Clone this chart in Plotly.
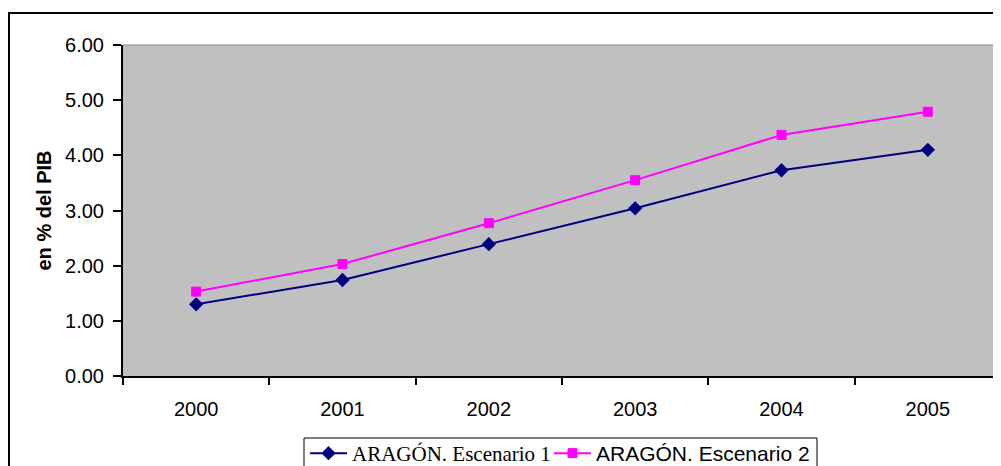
import plotly.graph_objects as go

years = ["2000", "2001", "2002", "2003", "2004", "2005"]
escenario1 = [1.30, 1.74, 2.39, 3.04, 3.73, 4.10]
escenario2 = [1.53, 2.03, 2.77, 3.55, 4.37, 4.79]
name1 = "ARAGÓN. Escenario 1"
name2 = "ARAGÓN. Escenario 2"
y_title = "en % del PIB"

# page body has an 8px margin; work in reference pixel coords
OFF = 8
W, H = 1001 - OFF, 466 - OFF
L, T = 123 - OFF, 45 - OFF
R = 0
B = H - (376 - OFF)
pw = W - L - R
ph = H - T - B

def px_x(x):
    return (x - OFF - L) / pw

def px_y(y):
    return (H - B - (y - OFF)) / ph

fig = go.Figure()
fig.add_trace(go.Scatter(
    x=years, y=escenario1, mode="lines+markers",
    name='<span style="font-family:\'Liberation Serif\', \'Times New Roman\', serif">' + name1 + '</span>',
    line=dict(color="#000080", width=2),
    marker=dict(symbol="diamond", size=11, color="#000080", line=dict(width=0)),
    legendwidth=192,
))
fig.add_trace(go.Scatter(
    x=years, y=escenario2, mode="lines+markers",
    name=name2,
    line=dict(color="#FF00FF", width=2),
    marker=dict(symbol="square", size=9, color="#FF00FF", line=dict(width=1, color="#FF00FF")),
))

shapes = [
    # plot area grey border (top edge)
    dict(type="line", xref="paper", yref="paper", x0=0, x1=1.0, y0=1, y1=1,
         line=dict(color="#808080", width=1), layer="below"),
    # outer chart border
    dict(type="rect", xref="paper", yref="paper", x0=px_x(9), x1=px_x(1100), y0=px_y(560), y1=px_y(13),
         line=dict(color="black", width=2), fillcolor="rgba(0,0,0,0)"),
    # legend box
    dict(type="rect", xref="paper", yref="paper", x0=px_x(304), x1=px_x(817), y0=px_y(560), y1=px_y(438),
         line=dict(color="black", width=1), fillcolor="white"),
]

fig.update_layout(
    width=W, height=H,
    margin=dict(l=L, r=R, t=T, b=B, autoexpand=False),
    paper_bgcolor="white",
    plot_bgcolor="#C0C0C0",
    font=dict(family="Liberation Sans, Arial, sans-serif", size=20, color="black"),
    showlegend=True,
    legend=dict(
        orientation="h", x=px_x(305), xanchor="left", y=px_y(433), yanchor="top",
        bgcolor="rgba(0,0,0,0)", borderwidth=0,
        font=dict(size=21, family="Liberation Sans, Arial, sans-serif"),
        itemwidth=37, tracegroupgap=0,
    ),
    shapes=shapes,
)
fig.update_xaxes(
    type="category", range=[-0.5, 5.5], tickson="boundaries", ticks="outside", ticklen=7, tickwidth=1.5,
    tickcolor="black", showline=True, linecolor="black", linewidth=2,
    showgrid=False, zeroline=False, ticklabelstandoff=14,
    tickfont=dict(size=20),
)
fig.update_yaxes(
    range=[0, 6], dtick=1, tickformat=".2f", ticks="outside", ticklen=8, tickwidth=1.5,
    tickcolor="black", showline=True, linecolor="black", linewidth=2,
    showgrid=False, zeroline=False, ticklabelstandoff=5,
    tickfont=dict(size=20),
    title=dict(text="<b>" + y_title + "</b>", font=dict(size=20), standoff=8),
)

fig.write_html("out.html")
